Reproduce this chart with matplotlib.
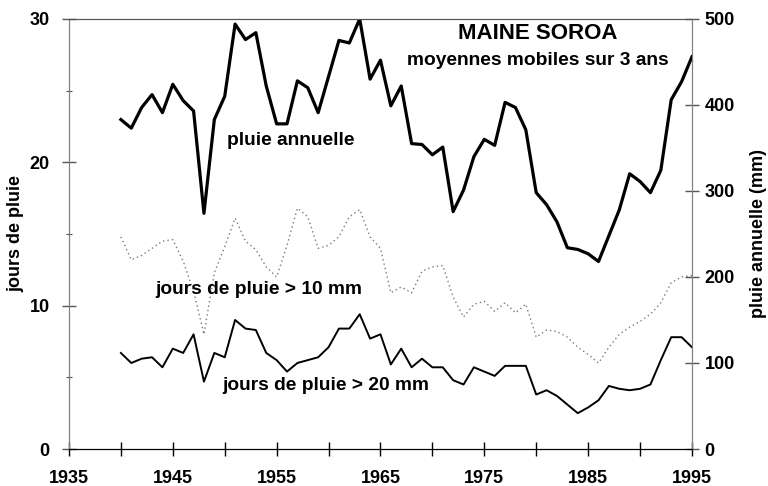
import matplotlib.pyplot as plt
import numpy as np

plt.rcParams['font.family'] = ['Liberation Sans', 'DejaVu Sans']
plt.rcParams['font.weight'] = 'bold'

years = list(range(1940, 1996))

# pluie annuelle (mm), moyenne mobile sur 3 ans -- right axis
pluie_annuelle = [
    383, 373, 397, 412, 391, 424, 405, 393, 274, 383,
    410, 494, 476, 484, 422, 378, 378, 428, 420, 391,
    433, 475, 472, 500, 430, 452, 399, 422, 355, 354,
    342, 351, 276, 301, 340, 360, 353, 403, 397, 371,
    298, 284, 264, 234, 232, 227, 218, 248, 278, 320,
    311, 298, 324, 406, 427, 456,
]

# jours de pluie > 10 mm -- left axis
jours_10mm = [
    14.8, 13.2, 13.5, 14.0, 14.5, 14.6, 13.1, 11.0, 8.0, 12.3,
    14.1, 16.1, 14.5, 13.9, 12.7, 12.0, 14.2, 16.8, 16.2, 14.0,
    14.2, 14.8, 16.2, 16.7, 14.8, 14.0, 10.9, 11.3, 10.9, 12.4,
    12.7, 12.8, 10.6, 9.2, 10.1, 10.3, 9.6, 10.2, 9.5, 10.1,
    7.8, 8.3, 8.2, 7.8, 7.1, 6.6, 6.0, 7.1, 8.0, 8.5,
    8.9, 9.4, 10.2, 11.6, 12.0, 12.1,
]

# jours de pluie > 20 mm -- left axis
jours_20mm = [
    6.7, 6.0, 6.3, 6.4, 5.7, 7.0, 6.7, 8.0, 4.7, 6.7,
    6.4, 9.0, 8.4, 8.3, 6.7, 6.2, 5.4, 6.0, 6.2, 6.4,
    7.1, 8.4, 8.4, 9.4, 7.7, 8.0, 5.9, 7.0, 5.7, 6.3,
    5.7, 5.7, 4.8, 4.5, 5.7, 5.4, 5.1, 5.8, 5.8, 5.8,
    3.8, 4.1, 3.7, 3.1, 2.5, 2.9, 3.4, 4.4, 4.2, 4.1,
    4.2, 4.5, 6.2, 7.8, 7.8, 7.1,
]

fig = plt.figure(figsize=(7.68, 4.86), dpi=100)
ax = fig.add_axes([0.0898, 0.0761, 0.8112, 0.885])
ax2 = ax.twinx()

ax.plot(years, jours_10mm, color="#7a7a7a", linestyle=(0, (1, 2.2)), linewidth=1.0)
ax.plot(years, jours_20mm, color="black", linewidth=1.4)
ax2.plot(years, pluie_annuelle, color="black", linewidth=2.3)

ax.set_xlim(1935, 1995)
ax.set_ylim(0, 30)
ax2.set_ylim(0, 500)

ax.set_xticks(np.arange(1935, 1996, 10))
ax.set_xticks(np.arange(1935, 1996, 5), minor=True)
ax.set_yticks([0, 10, 20, 30])
ax.set_yticks([5, 15, 25], minor=True)
ax2.set_yticks(np.arange(0, 501, 100))

ax.tick_params(axis="x", which="both", direction="inout", length=10, width=1,
               labelsize=13, pad=10)
ax.tick_params(axis="y", which="major", direction="inout", length=10, width=1,
               color="#555555", labelsize=13, pad=9)
ax.tick_params(axis="y", which="minor", direction="inout", length=5, width=0.8,
               color="#555555")
ax2.tick_params(axis="y", direction="inout", length=10, width=1,
                color="#555555", labelsize=13, pad=4)

for a in (ax, ax2):
    a.spines["left"].set_color("#808080")
    a.spines["right"].set_color("#808080")
    a.spines["top"].set_color("#555555")
    a.spines["top"].set_linestyle((0, (2, 1)))
    a.spines["bottom"].set_color("black")

ax.set_ylabel("jours de pluie", fontsize=13, fontweight="bold", labelpad=4)
ax2.set_ylabel("pluie annuelle (mm)", fontsize=13, fontweight="bold", labelpad=11)

ax.text(1980.1, 29.0, "MAINE SOROA", fontsize=16, fontweight="bold",
        ha="center", va="center")
ax.text(1980.2, 27.1, "moyennes mobiles sur 3 ans", fontsize=13.8, fontweight="bold",
        ha="center", va="center")
ax.text(1956.4, 21.5, "pluie annuelle", fontsize=13.8, fontweight="bold",
        ha="center", va="center")
ax.text(1953.3, 11.1, "jours de pluie > 10 mm", fontsize=13.8, fontweight="bold",
        ha="center", va="center")
ax.text(1959.7, 4.45, "jours de pluie > 20 mm", fontsize=13.8, fontweight="bold",
        ha="center", va="center")

fig.savefig("out.png", dpi=100)
